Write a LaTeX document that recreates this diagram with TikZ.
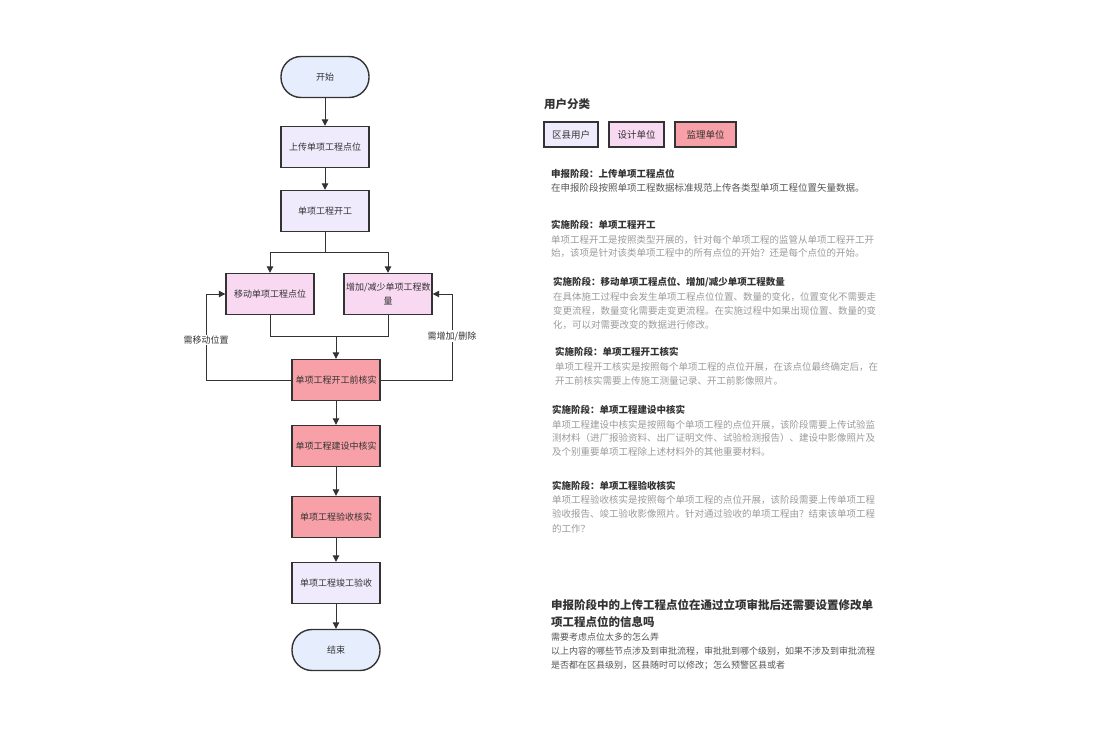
\documentclass[tikz,border=0pt]{standalone}
\usepackage{fontspec}
\setmainfont{Noto Sans CJK SC}
\usetikzlibrary{arrows.meta}
\definecolor{dk}{HTML}{333333}
\definecolor{startc}{HTML}{E6EDFD}
\definecolor{lav}{HTML}{EFEBFC}
\definecolor{pinkc}{HTML}{F9D8F2}
\definecolor{salm}{HTML}{F7A0A8}
\definecolor{bodyg}{HTML}{9A9A9A}
\definecolor{darkg}{HTML}{555555}
\begin{document}
\begin{tikzpicture}[x=1pt,y=-1pt,
  proc/.style={draw=dk, line width=1.4pt, minimum width=86pt, minimum height=41pt, inner sep=2pt, text width=84pt, align=center, font=\fontsize{9}{14}\selectfont, text=dk},
  term/.style={proc, rounded corners=20pt, fill=startc},
  arr/.style={-{Triangle[length=6.5pt,width=6.5pt]}, line width=1pt, draw=dk},
  ln/.style={line width=1pt, draw=dk},
  lbl/.style={fill=white, inner sep=1pt, font=\fontsize{9}{11}\selectfont, text=dk},
  leg/.style={draw=dk, line width=1.4pt, minimum height=25pt, inner sep=0pt, font=\fontsize{9.5}{11}\selectfont, text=dk},
  tl/.style={anchor=west, inner sep=0pt, font=\bfseries\fontsize{9.5}{11}\selectfont, text=dk},
  bl/.style={anchor=west, inner sep=0pt, font=\fontsize{9.5}{11}\selectfont, text=bodyg},
  bd/.style={anchor=west, inner sep=0pt, font=\fontsize{9.5}{11}\selectfont, text=darkg},
  hd/.style={anchor=west, inner sep=0pt, font=\bfseries\fontsize{11.5}{13}\selectfont, text=dk}
]
\useasboundingbox (0,0) rectangle (1099,733);

% flowchart nodes
\node[term] (start) at (325,77) {开始};
\node[proc, fill=lav] (upload) at (325,147) {上传单项工程点位};
\node[proc, fill=lav] (kaigong) at (325,211) {单项工程开工};
\node[proc, fill=pinkc, minimum width=87pt] (move) at (270,294) {移动单项工程点位};
\node[proc, fill=pinkc] (add) at (388,294) {增加/减少单项工程数\\量};
\node[proc, fill=salm, minimum width=87pt] (check1) at (336,380) {单项工程开工前核实};
\node[proc, fill=salm] (check2) at (336,446) {单项工程建设中核实};
\node[proc, fill=salm] (check3) at (336,517) {单项工程验收核实};
\node[proc, fill=lav] (final) at (336,583) {单项工程竣工验收};
\node[term] (end) at (336,650) {结束};

% connectors
\draw[arr] (start) -- (upload);
\draw[arr] (upload) -- (kaigong);
\coordinate (s1) at (325,252);
\draw[ln] (kaigong) -- (s1);
\draw[arr] (s1) -| (move);
\draw[arr] (s1) -| (add);
\coordinate (m1) at (336,336);
\draw[ln] (move) |- (m1);
\draw[ln] (add) |- (m1);
\draw[arr] (m1) -- (check1);
\coordinate (fbL) at (206,380);
\coordinate (fbR) at (452,380);
\draw[arr] (check1) -- (fbL) |- (move);
\draw[arr] (check1) -- (fbR) |- (add);
\node[lbl] (lblL) at (206,340) {需移动位置};
\node[lbl] (lblR) at (452,336) {需增加/删除};
\draw[arr] (check1) -- (check2);
\draw[arr] (check2) -- (check3);
\draw[arr] (check3) -- (final);
\draw[arr] (final) -- (end);

% legend
\node[hd] (legt) at (544,104) {用户分类};
\node[leg, fill=lav, minimum width=54pt] (lg1) at (571,134.5) {区县用户};
\node[leg, fill=pinkc, minimum width=55pt] (lg2) at (636.5,134.5) {设计单位};
\node[leg, fill=salm, minimum width=61pt] (lg3) at (705.5,134.5) {监理单位};

% text blocks
\node[tl] (b1t) at (551,174) {申报阶段：上传单项工程点位};
\node[bd] (b1a) at (551,188) {在申报阶段按照单项工程数据标准规范上传各类型单项工程位置矢量数据。};

\node[tl] (b2t) at (551,225) {实施阶段：单项工程开工};
\node[bl] (b2a) at (551,240) {单项工程开工是按照类型开展的，针对每个单项工程的监管从单项工程开工开};
\node[bl] (b2b) at (551,253) {始，该项是针对该类单项工程中的所有点位的开始？还是每个点位的开始。};

\node[tl] (b3t) at (553,282) {实施阶段：移动单项工程点位、增加/减少单项工程数量};
\node[bl] (b3a) at (553,297) {在具体施工过程中会发生单项工程点位位置、数量的变化，位置变化不需要走};
\node[bl] (b3b) at (553,311) {变更流程，数量变化需要走变更流程。在实施过程中如果出现位置、数量的变};
\node[bl] (b3c) at (553,325) {化，可以对需要改变的数据进行修改。};

\node[tl] (b4t) at (555,352) {实施阶段：单项工程开工核实};
\node[bl] (b4a) at (555,367) {单项工程开工核实是按照每个单项工程的点位开展，在该点位最终确定后，在};
\node[bl] (b4b) at (555,381) {开工前核实需要上传施工测量记录、开工前影像照片。};

\node[tl] (b5t) at (552,410) {实施阶段：单项工程建设中核实};
\node[bl] (b5a) at (552,425) {单项工程建设中核实是按照每个单项工程的点位开展，该阶段需要上传试验监};
\node[bl] (b5b) at (552,438) {测材料（进厂报验资料、出厂证明文件、试验检测报告）、建设中影像照片及};
\node[bl] (b5c) at (552,452) {及个别重要单项工程除上述材料外的其他重要材料。};

\node[tl] (b6t) at (552,486) {实施阶段：单项工程验收核实};
\node[bl] (b6a) at (552,500) {单项工程验收核实是按照每个单项工程的点位开展，该阶段需要上传单项工程};
\node[bl] (b6b) at (552,514) {验收报告、竣工验收影像照片。针对通过验收的单项工程由？结束该单项工程};
\node[bl] (b6c) at (552,529) {的工作？};

% bottom notes
\node[hd] (q1) at (551,605) {申报阶段中的上传工程点位在通过立项审批后还需要设置修改单};
\node[hd] (q2) at (551,622) {项工程点位的信息吗};
\node[bd, font=\fontsize{9}{11}\selectfont] (q3) at (551,637) {需要考虑点位太多的怎么弄};
\node[bd, font=\fontsize{9}{11}\selectfont] (q4) at (551,651) {以上内容的哪些节点涉及到审批流程，审批批到哪个级别，如果不涉及到审批流程};
\node[bd, font=\fontsize{9}{11}\selectfont] (q5) at (551,665) {是否都在区县级别，区县随时可以修改；怎么预警区县或者};
\end{tikzpicture}
\end{document}
